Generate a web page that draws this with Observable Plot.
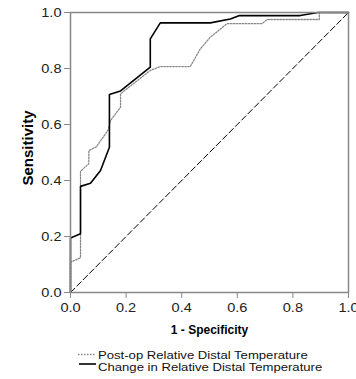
<!DOCTYPE html>
<html>
<head>
<meta charset="utf-8">
<script src="https://cdn.jsdelivr.net/npm/d3@7"></script>
<script src="https://cdn.jsdelivr.net/npm/@observablehq/plot@0.6"></script>
<style>
  html, body { margin: 0; padding: 0; background: #fff; }
  body { width: 356px; height: 379px; position: relative; overflow: hidden; font-family: "Liberation Sans", Arial, sans-serif; }
  #chart { position: absolute; left: 0; top: 0; }
  #legend { position: absolute; left: 0; top: 340px; }
</style>
</head>
<body>
<div id="chart"></div>
<svg id="legend" width="356" height="39" font-family="Liberation Sans, Arial, sans-serif" font-size="10.5" fill="#111">
  <line x1="78" x2="95" y1="14.5" y2="14.5" stroke="#888" stroke-width="1.3" stroke-dasharray="1.5,1.5"/>
  <text id="l1" transform="translate(98,18.5) scale(1.25,1)"></text>
  <line x1="79" x2="96" y1="24" y2="24" stroke="#000" stroke-width="1.6"/>
  <text id="l2" transform="translate(98,30.5) scale(1.25,1)"></text>
</svg>
<script>
const seriesNames = ["Post-op Relative Distal Temperature", "Change in Relative Distal Temperature"];
const xLabel = "1 - Specificity";
const yLabel = "Sensitivity";
const ticks = [0, 0.2, 0.4, 0.6, 0.8, 1.0];

const changeX = [0, 0, 0.036, 0.036, 0.072, 0.108, 0.14, 0.14, 0.18, 0.287, 0.287, 0.323, 0.503, 0.575, 0.608, 0.826, 0.89, 1.0];
const changeY = [0, 0.195, 0.21, 0.379, 0.39, 0.436, 0.519, 0.707, 0.72, 0.805, 0.906, 0.963, 0.963, 0.977, 0.989, 0.989, 1.0, 1.0];

const postX = [0, 0, 0.036, 0.036, 0.066, 0.066, 0.093, 0.135, 0.144, 0.18, 0.18, 0.287, 0.323, 0.431, 0.467, 0.503, 0.563, 0.689, 0.707, 0.895, 0.895, 1.0];
const postY = [0, 0.108, 0.124, 0.433, 0.46, 0.507, 0.52, 0.58, 0.614, 0.662, 0.71, 0.793, 0.807, 0.807, 0.87, 0.912, 0.96, 0.96, 0.975, 0.975, 1.0, 1.0];

const refX = [0, 1];
const refY = [0, 1];

const change = changeX.map((x, i) => ({x, y: changeY[i]}));
const post = postX.map((x, i) => ({x, y: postY[i]}));
const ref = refX.map((x, i) => ({x, y: refY[i]}));

document.getElementById("l1").textContent = seriesNames[0];
document.getElementById("l2").textContent = seriesNames[1];

const fmt = d3.format(".1f");
const chart = Plot.plot({
  width: 356,
  height: 340,
  marginTop: 12,
  marginBottom: 48,
  marginLeft: 70,
  marginRight: 8,
  style: {fontFamily: "Liberation Sans, Arial, sans-serif", fontSize: "13px", color: "#222", background: "#fff"},
  x: {domain: [0, 1]},
  y: {domain: [0, 1]},
  marks: [
    Plot.line(ref, {x: "x", y: "y", stroke: "#000", strokeWidth: 1, strokeDasharray: "6,3"}),
    Plot.line(post, {x: "x", y: "y", stroke: "#888", strokeWidth: 1.3, strokeDasharray: "1.5,1.5"}),
    Plot.line(change, {x: "x", y: "y", stroke: "#000", strokeWidth: 1.6}),
    Plot.frame({stroke: "#888", strokeWidth: 1.5}),
    Plot.axisX({ticks, tickFormat: fmt, tickSize: 6, tickPadding: 4, stroke: "#888", fill: "#222", label: null}),
    Plot.axisY({ticks, tickFormat: fmt, tickSize: 6, tickPadding: 3, stroke: "#888", fill: "#222", label: null}),
    Plot.text([xLabel], {text: d => d, frameAnchor: "bottom", dy: 41, fontSize: 12, fontWeight: "bold", fill: "#000", ariaLabel: "x-title"}),
    Plot.text([yLabel], {text: d => d, frameAnchor: "left", textAnchor: "middle", rotate: -90, dx: -42, dy: -4.5, fontSize: 15, fontWeight: "bold", fill: "#000", ariaLabel: "y-title"})
  ]
});
document.getElementById("chart").appendChild(chart);

// widen glyphs horizontally about each text's anchor point, as in the reference
function stretch(sel, s) {
  chart.querySelectorAll(sel).forEach(t => {
    const r = t.getBoundingClientRect();
    const anchor = getComputedStyle(t).textAnchor;
    const ax = anchor === "middle" ? r.left + r.width / 2 : anchor === "end" ? r.right : r.left;
    const parent = t.parentNode;
    const m = parent.getScreenCTM().inverse();
    const p = new DOMPoint(ax, r.top).matrixTransform(m);
    const g = document.createElementNS("http://www.w3.org/2000/svg", "g");
    g.setAttribute("transform", `translate(${p.x},0) scale(${s},1) translate(${-p.x},0)`);
    parent.insertBefore(g, t);
    g.appendChild(t);
  });
}
stretch('g[aria-label="x-axis tick label"] text', 1.12);
stretch('g[aria-label="y-axis tick label"] text', 1.12);
stretch('g[aria-label="x-title"] text', 1.1);
</script>
</body>
</html>
